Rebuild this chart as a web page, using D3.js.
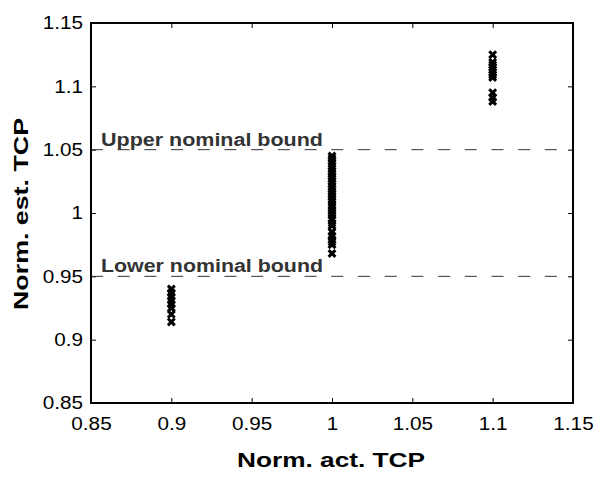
<!DOCTYPE html>
<html>
<head>
<meta charset="utf-8">
<script src="https://cdn.jsdelivr.net/npm/d3@7"></script>
<style>
  body { margin: 0; background: #fff; }
  text { font-family: "Liberation Sans", Arial, sans-serif; }
</style>
</head>
<body>
<div id="chart"></div>
<script>
// ticks shared by both axes
var tickValues = [0.85, 0.9, 0.95, 1, 1.05, 1.1, 1.15];

// actual TCP groups and estimated TCP samples
var groupX = [0.9, 1.0, 1.1];
var est09 = [0.914, 0.920, 0.925, 0.928, 0.931, 0.934, 0.937, 0.940];
var est10 = [1.045, 1.043, 1.041, 1.039, 1.037, 1.035, 1.033, 1.031, 1.029, 1.027,
             1.025, 1.023, 1.021, 1.019, 1.017, 1.015, 1.013, 1.011, 1.009, 1.006,
             1.004, 1.002, 1.000, 0.998, 0.995, 0.992, 0.990, 0.985, 0.982, 0.979,
             0.977, 0.975, 0.968];
var est11 = [1.125, 1.119, 1.117, 1.115, 1.113, 1.111, 1.109, 1.107, 1.095, 1.091, 1.088];

var bounds = [1.05, 0.95];
var boundLabels = ["Upper nominal bound", "Lower nominal bound"];

var W = 599, H = 479;
var m = {left: 91, right: 573, top: 23, bottom: 403};
var stretch = 1.15; // the original text is a bit wider than Arial

var svg = d3.select('#chart')
  .append('svg')
    .attr('width', W)
    .attr('height', H);

var x = d3.scaleLinear().domain([0.85, 1.15]).range([m.left, m.right]);
var y = d3.scaleLinear().domain([0.85, 1.15]).range([m.bottom, m.top]);

var fmt = function (d) { return String(+d.toFixed(2)); };

function widen(sel) {
  sel.each(function () {
    var w = this.getComputedTextLength();
    d3.select(this)
      .attr('textLength', w * stretch)
      .attr('lengthAdjust', 'spacingAndGlyphs');
  });
}

function styleAxis(g) {
  g.select('.domain').remove();
  g.selectAll('.tick line').attr('stroke', '#000').attr('stroke-width', 1);
  g.selectAll('.tick text')
    .attr('fill', '#000')
    .style('font-size', '18px')
    .call(widen);
}

// bottom / left with labels, top / right ticks only (ticks point inward)
svg.append('g')
  .attr('transform', 'translate(0,' + m.bottom + ')')
  .call(d3.axisBottom(x).tickValues(tickValues).tickFormat(fmt).tickSizeInner(-5).tickPadding(14))
  .call(styleAxis);
svg.append('g')
  .attr('transform', 'translate(0,' + m.top + ')')
  .call(d3.axisTop(x).tickValues(tickValues).tickFormat('').tickSizeInner(-5))
  .call(styleAxis);
svg.append('g')
  .attr('transform', 'translate(' + m.left + ',0)')
  .call(d3.axisLeft(y).tickValues(tickValues).tickFormat(fmt).tickSizeInner(-5).tickPadding(8))
  .call(styleAxis);
svg.append('g')
  .attr('transform', 'translate(' + m.right + ',0)')
  .call(d3.axisRight(y).tickValues(tickValues).tickFormat('').tickSizeInner(-5))
  .call(styleAxis);

// nominal bounds
svg.selectAll('line.bound')
  .data(bounds)
  .enter()
    .append('line')
      .classed('bound', true)
      .attr('x1', m.left)
      .attr('x2', m.right)
      .attr('y1', function (d) { return y(d); })
      .attr('y2', function (d) { return y(d); })
      .attr('stroke', '#333')
      .attr('stroke-width', 1)
      .attr('stroke-dasharray', '12,14.7');

svg.selectAll('text.bound-label')
  .data(bounds)
  .enter()
    .append('text')
      .classed('bound-label', true)
      .attr('x', m.left + 10)
      .attr('y', function (d) { return y(d) - 4; })
      .attr('fill', '#333')
      .style('font-size', '18px')
      .style('font-weight', 'bold')
      .text(function (d, i) { return boundLabels[i]; })
      .attr('textLength', 222)
      .attr('lengthAdjust', 'spacingAndGlyphs');

// samples
var points = [];
[est09, est10, est11].forEach(function (arr, i) {
  arr.forEach(function (v) { points.push({x: groupX[i], y: v}); });
});

var s = 3.4;
svg.selectAll('path.mark')
  .data(points)
  .enter()
    .append('path')
      .classed('mark', true)
      .attr('transform', function (d) { return 'translate(' + x(d.x) + ',' + y(d.y) + ')'; })
      .attr('d', 'M' + -s + ',' + -s + 'L' + s + ',' + s + 'M' + -s + ',' + s + 'L' + s + ',' + -s)
      .attr('stroke', '#000')
      .attr('stroke-width', 3)
      .attr('fill', 'none');

// frame
svg.append('rect')
  .attr('x', m.left)
  .attr('y', m.top)
  .attr('width', m.right - m.left)
  .attr('height', m.bottom - m.top)
  .attr('fill', 'none')
  .attr('stroke', '#000')
  .attr('stroke-width', 2);

// axis titles
svg.append('text')
  .attr('x', 237)
  .attr('y', 467)
  .style('font-size', '21px')
  .style('font-weight', 'bold')
  .attr('textLength', 188)
  .attr('lengthAdjust', 'spacingAndGlyphs')
  .text('Norm. act. TCP');

svg.append('text')
  .attr('transform', 'translate(28,310) rotate(-90)')
  .style('font-size', '21px')
  .style('font-weight', 'bold')
  .attr('textLength', 192)
  .attr('lengthAdjust', 'spacingAndGlyphs')
  .text('Norm. est. TCP');
</script>
</body>
</html>
